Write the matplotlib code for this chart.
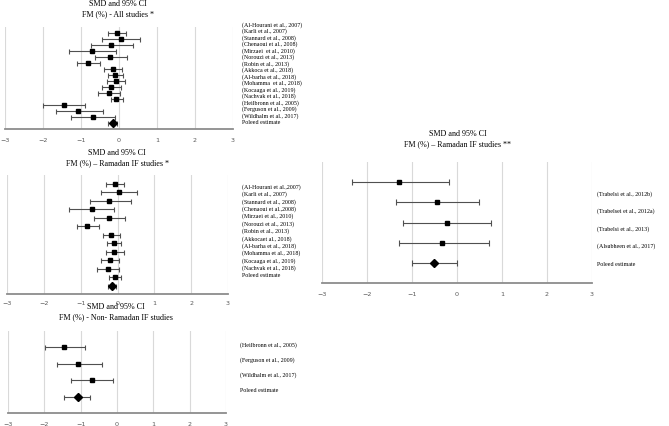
import matplotlib
matplotlib.use("Agg")
from matplotlib import pyplot as plt
import numpy as np

# Ramadan IF studies (shared by "All studies" and "Ramadan IF *")
ram_labels = ["(Al-Hourani et al., 2007)", "(Karli et al., 2007)", "(Stannard et al., 2008)",
              "(Chenaoui et al., 2008)", "(Mirzaei  et al., 2010)", "(Norouzi et al., 2013)",
              "(Robin et al., 2013)", "(Akkoca et al., 2018)", "(Al-barha et al., 2018)",
              "(Mohamma  et al., 2018)", "(Kocaaga et al., 2019)", "(Nachvak et al., 2018)"]
ram_smd = [-0.06, 0.04, -0.22, -0.70, -0.23, -0.82, -0.17, -0.10, -0.09, -0.21, -0.27, -0.07]
ram_lo = [-0.30, -0.44, -0.75, -1.31, -0.63, -1.11, -0.40, -0.29, -0.32, -0.44, -0.56, -0.22]
ram_hi = [0.19, 0.54, 0.36, -0.09, 0.20, -0.49, 0.08, 0.10, 0.17, 0.05, 0.03, 0.10]

# Non-Ramadan IF studies
non_labels = ["(Heilbronn et al., 2005)", "(Ferguson et al., 2009)", "(Wildhalm et al., 2017)"]
non_smd = [-1.45, -1.07, -0.69]
non_lo = [-1.99, -1.65, -1.27]
non_hi = [-0.89, -0.42, -0.10]

# Ramadan IF studies **
ram2_labels = ["(Trabelsi et al., 2012b)", "(Trabelsei et al., 2012a)",
               "(Trabelsi et al., 2013)", "(Alsubheen et al., 2017)"]
ram2_smd = [-1.29, -0.44, -0.23, -0.33]
ram2_lo = [-2.34, -1.35, -1.20, -1.30]
ram2_hi = [-0.18, 0.49, 0.76, 0.70]

# pooled estimates (smd, lo, hi)
pool_all = (-0.17, -0.29, -0.06)
pool_ram = (-0.15, -0.27, -0.04)
pool_non = (-1.08, -1.45, -0.75)
pool_ram2 = (-0.52, -1.01, -0.01)

W, H = 669, 427
fig = plt.figure(figsize=(W / 100, H / 100), dpi=100)

serif = ["Liberation Serif", "DejaVu Serif"]


def forest(box, smd, lo, hi, pool, title, labels, lab_x, lab_y0, lab_dy, title_x, title_y,
           capsize=1.8, pad=6):
    x0, x1, top, bot = box
    ax = fig.add_axes([x0 / W, 1 - bot / H, (x1 - x0) / W, (bot - top) / H])
    n = len(smd)
    ys = np.arange(n + 1, 1, -1)
    smd = np.array(smd)
    ax.errorbar(smd, ys, xerr=[smd - np.array(lo), np.array(hi) - smd], fmt="s",
                color="black", ms=2.6, ecolor="#505050", elinewidth=0.8,
                capsize=capsize, capthick=0.8, zorder=3)
    p = pool
    ax.errorbar([p[0]], [1], xerr=[[p[0] - p[1]], [p[2] - p[0]]], fmt="D",
                color="black", ms=3.8, ecolor="#505050", elinewidth=0.8,
                capsize=capsize, capthick=0.8, zorder=3)
    ax.set_xlim(-3, 3)
    ax.set_ylim(0, n + 2)
    ax.set_xticks(range(-3, 4))
    ax.set_yticks([])
    ax.grid(axis="x", color="#d9d9d9", lw=0.8)
    ax.set_axisbelow(True)
    for s in ["top", "left", "right"]:
        ax.spines[s].set_visible(False)
    ax.spines["bottom"].set_color("#8c8c8c")
    ax.spines["bottom"].set_linewidth(1.3)
    ax.tick_params(axis="x", length=0, labelsize=4.6, labelcolor="#595959", pad=pad)
    ax.patch.set_alpha(0)
    fig.text(title_x / W, 1 - title_y / H, "SMD and 95% CI\n" + title, ha="center",
             va="center", fontsize=5.8, family=serif, linespacing=1.35)
    for i, lab in enumerate(labels + ["Poleed estimate"]):
        fig.text(lab_x / W, 1 - (lab_y0 + i * lab_dy) / H, lab, ha="left", va="center",
                 fontsize=4.3, family=serif)
    return ax


# panel 1: all studies
forest((5, 233, 28, 130), ram_smd + non_smd, ram_lo + non_lo, ram_hi + non_hi, pool_all,
       "FM (%) - All studies *", ram_labels + non_labels, 242, 25, 6.5, 118, 9)

# panel 2: Ramadan IF studies *
lab2 = list(ram_labels)
lab2[0] = "(Al-Hourani et al.,2007)"
lab2[3] = "(Chenaoui et al.,2008)"
lab2[4] = "(Mirzaei et al., 2010)"
lab2[7] = "(Akkocaet al., 2018)"
lab2[9] = "(Mohamma et al., 2018)"
forest((7, 228, 176, 295), ram_smd, ram_lo, ram_hi, pool_ram,
       "FM (%) \u2013 Ramadan IF studies *", lab2, 242, 187, 7.4, 117, 158, pad=4)

# panel 3: non-Ramadan IF studies
forest((8, 226, 332, 414), non_smd, non_lo, non_hi, pool_non,
       "FM (%) - Non- Ramadan IF studies", non_labels, 240, 345, 15.3, 116, 312)

# panel 4: Ramadan IF studies **
forest((322, 592, 163, 284), ram2_smd, ram2_lo, ram2_hi, pool_ram2,
       "FM (%) \u2013 Ramadan IF studies **", ram2_labels, 597, 194, 17.5, 458, 139,
       capsize=2.2)

fig.savefig("out.png", dpi=100)
